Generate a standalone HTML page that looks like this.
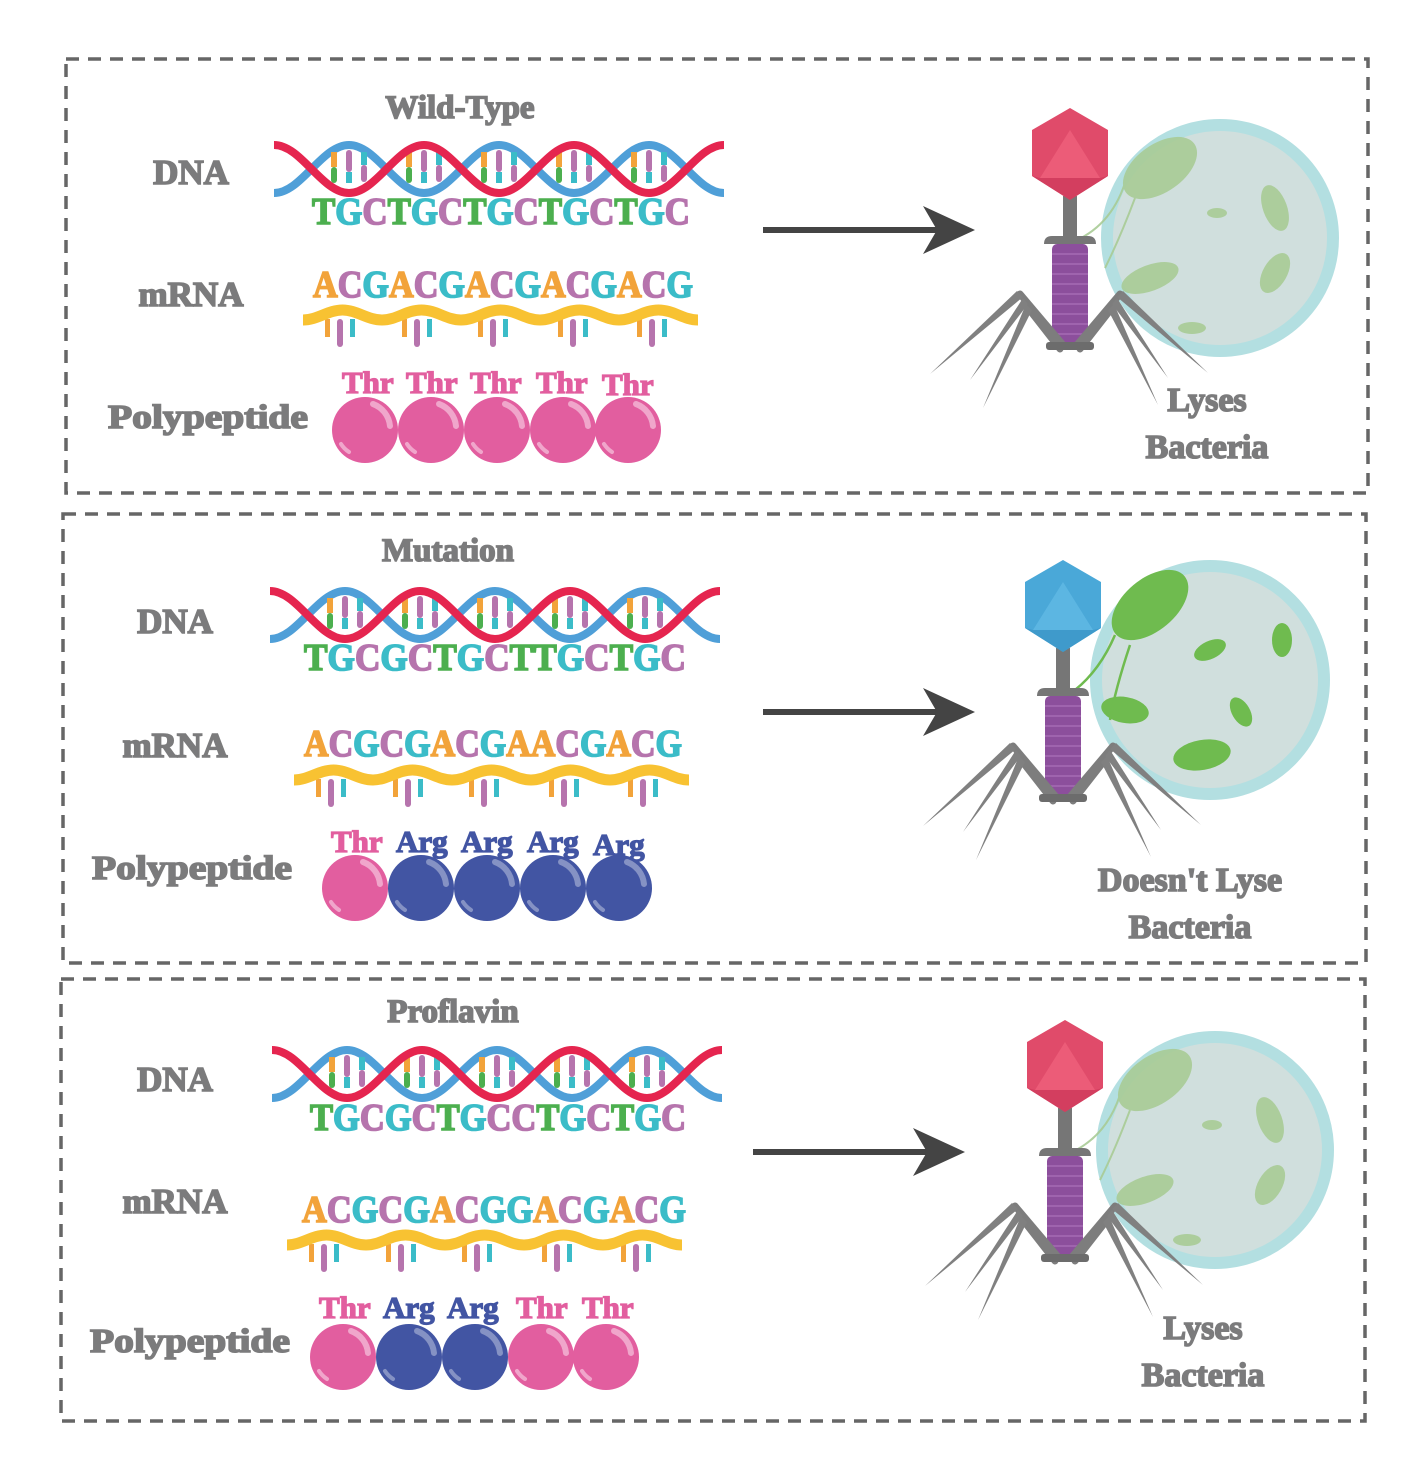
<!DOCTYPE html>
<html><head><meta charset="utf-8"><style>
html,body{margin:0;padding:0;background:#fff}
svg{display:block}
.lab{font-family:"Liberation Serif",serif;font-weight:bold;fill:#7b7b7c;stroke:#7b7b7c;stroke-width:1.6}
.seq{font-family:"Liberation Serif",serif;font-weight:bold;font-size:38px;stroke-width:1.6}
.seq tspan{stroke:currentColor}
.aa{font-family:"Liberation Serif",serif;font-weight:bold;font-size:31px}
.aa text{stroke-width:1.3}
</style></head><body>
<svg width="1427" height="1480" viewBox="0 0 1427 1480" xmlns="http://www.w3.org/2000/svg">
<defs>
<g id="bp">
  <rect x="-18" y="-17" width="6" height="15" fill="#f2a33a"/><rect x="-18" y="-2" width="6" height="16" rx="3" fill="#4caf4f"/>
  <rect x="-3" y="-19" width="6" height="22" rx="3" fill="#b674ad"/><rect x="-3" y="3" width="6" height="11" fill="#3bbcc8"/>
  <rect x="12" y="-17" width="6" height="13" fill="#3bbcc8"/><rect x="12" y="-4" width="6" height="17" rx="3" fill="#b674ad"/>
</g>
<g id="helix">
  <path d="M0,-24 C27.3,-24 47.7,24 75,24 S122.7,-24 150,-24 S197.7,24 225,24 S272.7,-24 300,-24 S347.7,24 375,24 S422.7,-24 450,-24" fill="none" stroke="#4f9fd8" stroke-width="8" transform="scale(1,-1)"/>
  <use href="#bp" x="75"/><use href="#bp" x="150"/><use href="#bp" x="225"/><use href="#bp" x="300"/><use href="#bp" x="375"/>
  <path d="M0,-24 C27.3,-24 47.7,24 75,24 S122.7,-24 150,-24 S197.7,24 225,24 S272.7,-24 300,-24 S347.7,24 375,24 S422.7,-24 450,-24" fill="none" stroke="#e5254f" stroke-width="8"/>
</g>
<g id="rtick">
  <rect x="-15" y="4" width="5" height="18" fill="#f2a33a"/>
  <rect x="-3" y="4" width="6" height="28" rx="3" fill="#b674ad"/>
  <rect x="10" y="4" width="5" height="18" fill="#3bbcc8"/>
</g>
<g id="rna">
  <use href="#rtick" x="37"/><use href="#rtick" x="114"/><use href="#rtick" x="190"/><use href="#rtick" x="270"/><use href="#rtick" x="349"/>
  <path d="M0,5 C14.4,5 25.1,-5 39.5,-5 S64.4,5 79,5 S103.4,-5 118.5,-5 S143.4,5 158,5 S182.4,-5 197.5,-5 S222.4,5 237,5 S261.4,-5 276.5,-5 S301.4,5 316,5 S340.4,-5 355.5,-5 S380.4,5 395,5" fill="none" stroke="#f8c232" stroke-width="11"/>
</g>
<g id="pink"><circle r="33" fill="#e25e9f"/><path d="M8,-26 A26,26 0 0 1 25,-4" stroke="#f0a6cb" stroke-width="6" fill="none" stroke-linecap="round"/><path d="M-24,14 A26,26 0 0 0 -16,22" stroke="#f0a6cb" stroke-width="4" fill="none" stroke-linecap="round"/></g>
<g id="blue"><circle r="33" fill="#4255a3"/><path d="M8,-26 A26,26 0 0 1 25,-4" stroke="#8592c4" stroke-width="6" fill="none" stroke-linecap="round"/><path d="M-24,14 A26,26 0 0 0 -16,22" stroke="#8592c4" stroke-width="4" fill="none" stroke-linecap="round"/></g>
<g id="arrow"><rect x="0" y="-3" width="180" height="6" fill="#444"/><polygon points="160,-24 212,0 160,24 174,0" fill="#444"/></g>
<g id="body">
  <rect x="-7" y="88" width="14" height="44" fill="#767676"/>
  <path d="M-26,136 Q-26,128 -18,128 L18,128 Q26,128 26,136 Z" fill="#767676"/>
  <rect x="-18" y="136" width="36" height="101" rx="5" fill="#8c4f9c"/>
  <g stroke="#a56bb3" stroke-width="1.5"><line x1="-18" y1="146" x2="18" y2="146"/><line x1="-18" y1="156" x2="18" y2="156"/><line x1="-18" y1="166" x2="18" y2="166"/><line x1="-18" y1="176" x2="18" y2="176"/><line x1="-18" y1="186" x2="18" y2="186"/><line x1="-18" y1="196" x2="18" y2="196"/><line x1="-18" y1="206" x2="18" y2="206"/><line x1="-18" y1="216" x2="18" y2="216"/><line x1="-18" y1="226" x2="18" y2="226"/></g>
  <g stroke="#7d7d7d" stroke-width="7" stroke-linecap="round" fill="none">
    <polyline points="-6,238 -50,186"/><polyline points="-10,241 -42,200"/>
    <polyline points="6,238 50,186"/><polyline points="10,241 42,200"/>
  </g>
  <rect x="-24" y="234" width="48" height="8" rx="3" fill="#6c6c6c"/>
  <g fill="#808080">
    <polygon points="-53,183 -47,189 -140,266"/><polygon points="-47,190 -42,196 -100,272"/><polygon points="-44,196 -38,202 -87,300"/>
    <polygon points="53,183 47,189 138,265"/><polygon points="47,190 42,196 98,270"/><polygon points="44,196 38,202 88,297"/>
  </g>
</g>
<g id="headR"><polygon points="0,0 38,22 38,68 0,92 -38,68 -38,22" fill="#e04b6a"/><polygon points="0,22 30,70 -30,70" fill="#ec5c78"/><polygon points="0,92 38,68 30,70 -30,70 -38,68" fill="#d33e5f"/></g>
<g id="headB"><polygon points="0,0 38,22 38,68 0,92 -38,68 -38,22" fill="#4aa8d8"/><polygon points="0,22 30,70 -30,70" fill="#5cb6e2"/><polygon points="0,92 38,68 30,70 -30,70 -38,68" fill="#3f9acb"/></g>
<g id="bacF" fill="#a9cc96" opacity="0.9">
  <ellipse cx="-60" cy="-70" rx="42" ry="24" transform="rotate(-35 -60 -70)"/>
  <ellipse cx="55" cy="-30" rx="24" ry="12" transform="rotate(70 55 -30)"/>
  <ellipse cx="-3" cy="-25" rx="10" ry="5"/>
  <ellipse cx="-70" cy="40" rx="30" ry="13" transform="rotate(-20 -70 40)"/>
  <ellipse cx="55" cy="35" rx="22" ry="12" transform="rotate(-60 55 35)"/>
  <ellipse cx="-28" cy="90" rx="14" ry="6"/>
  <path d="M-95,-55 Q-110,-10 -150,5 M-85,-40 Q-100,0 -115,30" stroke="#a9cc96" stroke-width="2" fill="none"/>
</g>
<g id="bacM" fill="#6fbb4f">
  <ellipse cx="-60" cy="-75" rx="45" ry="26" transform="rotate(-40 -60 -75)"/>
  <ellipse cx="0" cy="-30" rx="17" ry="9" transform="rotate(-25 0 -30)"/>
  <ellipse cx="72" cy="-40" rx="10" ry="17"/>
  <ellipse cx="-85" cy="30" rx="24" ry="13" transform="rotate(10 -85 30)"/>
  <ellipse cx="31" cy="32" rx="9" ry="16" transform="rotate(-30 31 32)"/>
  <ellipse cx="-8" cy="75" rx="29" ry="15" transform="rotate(-10 -8 75)"/>
  <path d="M-95,-45 Q-110,-10 -135,10 M-80,-35 Q-95,10 -100,40" stroke="#6fbb4f" stroke-width="2.5" fill="none"/>
</g>
</defs>

<g fill="none" stroke="#666" stroke-width="3.5" stroke-dasharray="13 9">
<rect x="66" y="59" width="1302" height="434"/>
<rect x="63" y="514" width="1303" height="449"/>
<rect x="61" y="979" width="1304" height="442"/>
</g>

<!-- PANEL 1 -->
<text class="lab" x="460" y="118" font-size="33" text-anchor="middle">Wild-Type</text>
<text class="lab" x="191" y="184" font-size="35" text-anchor="middle">DNA</text>
<text class="lab" x="191" y="306" font-size="35" text-anchor="middle">mRNA</text>
<text class="lab" x="208" y="428" font-size="34" text-anchor="middle" textLength="200" lengthAdjust="spacingAndGlyphs">Polypeptide</text>
<use href="#helix" x="274" y="169"/>
<text class="seq" x="312" y="224" textLength="378" lengthAdjust="spacingAndGlyphs"><tspan fill="#4caf4f" color="#4caf4f">T</tspan><tspan fill="#3bbcc8" color="#3bbcc8">G</tspan><tspan fill="#b674ad" color="#b674ad">C</tspan><tspan fill="#4caf4f" color="#4caf4f">T</tspan><tspan fill="#3bbcc8" color="#3bbcc8">G</tspan><tspan fill="#b674ad" color="#b674ad">C</tspan><tspan fill="#4caf4f" color="#4caf4f">T</tspan><tspan fill="#3bbcc8" color="#3bbcc8">G</tspan><tspan fill="#b674ad" color="#b674ad">C</tspan><tspan fill="#4caf4f" color="#4caf4f">T</tspan><tspan fill="#3bbcc8" color="#3bbcc8">G</tspan><tspan fill="#b674ad" color="#b674ad">C</tspan><tspan fill="#4caf4f" color="#4caf4f">T</tspan><tspan fill="#3bbcc8" color="#3bbcc8">G</tspan><tspan fill="#b674ad" color="#b674ad">C</tspan></text>
<text class="seq" x="313" y="297" textLength="380" lengthAdjust="spacingAndGlyphs"><tspan fill="#f2a33a" color="#f2a33a">A</tspan><tspan fill="#b674ad" color="#b674ad">C</tspan><tspan fill="#3bbcc8" color="#3bbcc8">G</tspan><tspan fill="#f2a33a" color="#f2a33a">A</tspan><tspan fill="#b674ad" color="#b674ad">C</tspan><tspan fill="#3bbcc8" color="#3bbcc8">G</tspan><tspan fill="#f2a33a" color="#f2a33a">A</tspan><tspan fill="#b674ad" color="#b674ad">C</tspan><tspan fill="#3bbcc8" color="#3bbcc8">G</tspan><tspan fill="#f2a33a" color="#f2a33a">A</tspan><tspan fill="#b674ad" color="#b674ad">C</tspan><tspan fill="#3bbcc8" color="#3bbcc8">G</tspan><tspan fill="#f2a33a" color="#f2a33a">A</tspan><tspan fill="#b674ad" color="#b674ad">C</tspan><tspan fill="#3bbcc8" color="#3bbcc8">G</tspan></text>
<use href="#rna" x="303" y="315"/>
<g class="aa" fill="#e25e9f" stroke="#e25e9f"><text x="342" y="393">Thr</text><text x="406" y="393">Thr</text><text x="470" y="393">Thr</text><text x="536" y="393">Thr</text><text x="602" y="395">Thr</text></g>
<use href="#pink" x="365" y="430"/><use href="#pink" x="431" y="430"/><use href="#pink" x="497" y="430"/><use href="#pink" x="563" y="430"/><use href="#pink" x="628" y="430"/>
<use href="#arrow" x="763" y="230"/>
<circle cx="1220" cy="238" r="113" fill="#d0dfdd" stroke="#b3dfe1" stroke-width="12"/>
<use href="#bacF" x="1220" y="238"/>
<use href="#body" x="1070" y="108"/><use href="#headR" x="1070" y="108"/>
<text class="lab" x="1207" y="411" font-size="34" text-anchor="middle">Lyses</text>
<text class="lab" x="1207" y="458" font-size="34" text-anchor="middle">Bacteria</text>

<!-- PANEL 2 -->
<text class="lab" x="448" y="561" font-size="33" text-anchor="middle">Mutation</text>
<text class="lab" x="175" y="633" font-size="35" text-anchor="middle">DNA</text>
<text class="lab" x="175" y="757" font-size="35" text-anchor="middle">mRNA</text>
<text class="lab" x="192" y="879" font-size="34" text-anchor="middle" textLength="200" lengthAdjust="spacingAndGlyphs">Polypeptide</text>
<use href="#helix" x="270" y="615"/>
<text class="seq" x="304" y="670" textLength="382" lengthAdjust="spacingAndGlyphs"><tspan fill="#4caf4f" color="#4caf4f">T</tspan><tspan fill="#3bbcc8" color="#3bbcc8">G</tspan><tspan fill="#b674ad" color="#b674ad">C</tspan><tspan fill="#3bbcc8" color="#3bbcc8">G</tspan><tspan fill="#b674ad" color="#b674ad">C</tspan><tspan fill="#4caf4f" color="#4caf4f">T</tspan><tspan fill="#3bbcc8" color="#3bbcc8">G</tspan><tspan fill="#b674ad" color="#b674ad">C</tspan><tspan fill="#4caf4f" color="#4caf4f">T</tspan><tspan fill="#4caf4f" color="#4caf4f">T</tspan><tspan fill="#3bbcc8" color="#3bbcc8">G</tspan><tspan fill="#b674ad" color="#b674ad">C</tspan><tspan fill="#4caf4f" color="#4caf4f">T</tspan><tspan fill="#3bbcc8" color="#3bbcc8">G</tspan><tspan fill="#b674ad" color="#b674ad">C</tspan></text>
<text class="seq" x="304" y="756" textLength="378" lengthAdjust="spacingAndGlyphs"><tspan fill="#f2a33a" color="#f2a33a">A</tspan><tspan fill="#b674ad" color="#b674ad">C</tspan><tspan fill="#3bbcc8" color="#3bbcc8">G</tspan><tspan fill="#b674ad" color="#b674ad">C</tspan><tspan fill="#3bbcc8" color="#3bbcc8">G</tspan><tspan fill="#f2a33a" color="#f2a33a">A</tspan><tspan fill="#b674ad" color="#b674ad">C</tspan><tspan fill="#3bbcc8" color="#3bbcc8">G</tspan><tspan fill="#f2a33a" color="#f2a33a">A</tspan><tspan fill="#f2a33a" color="#f2a33a">A</tspan><tspan fill="#b674ad" color="#b674ad">C</tspan><tspan fill="#3bbcc8" color="#3bbcc8">G</tspan><tspan fill="#f2a33a" color="#f2a33a">A</tspan><tspan fill="#b674ad" color="#b674ad">C</tspan><tspan fill="#3bbcc8" color="#3bbcc8">G</tspan></text>
<use href="#rna" x="294" y="775"/>
<g class="aa"><text x="331" y="852" fill="#e25e9f" stroke="#e25e9f">Thr</text><g fill="#4255a3" stroke="#4255a3"><text x="396" y="852">Arg</text><text x="461" y="852">Arg</text><text x="527" y="852">Arg</text><text x="593" y="855">Arg</text></g></g>
<use href="#pink" x="355" y="888"/><use href="#blue" x="421" y="888"/><use href="#blue" x="487" y="888"/><use href="#blue" x="553" y="888"/><use href="#blue" x="619" y="888"/>
<use href="#arrow" x="763" y="712"/>
<circle cx="1210" cy="680" r="114" fill="#d0dfdd" stroke="#b3dfe1" stroke-width="12"/>
<use href="#bacM" x="1210" y="680"/>
<use href="#body" x="1063" y="560"/><use href="#headB" x="1063" y="560"/>
<text class="lab" x="1190" y="891" font-size="34" text-anchor="middle">Doesn't Lyse</text>
<text class="lab" x="1190" y="938" font-size="34" text-anchor="middle">Bacteria</text>

<!-- PANEL 3 -->
<text class="lab" x="453" y="1022" font-size="33" text-anchor="middle">Proflavin</text>
<text class="lab" x="175" y="1091" font-size="35" text-anchor="middle">DNA</text>
<text class="lab" x="175" y="1213" font-size="35" text-anchor="middle">mRNA</text>
<text class="lab" x="190" y="1352" font-size="34" text-anchor="middle" textLength="200" lengthAdjust="spacingAndGlyphs">Polypeptide</text>
<use href="#helix" x="272" y="1074"/>
<text class="seq" x="310" y="1130" textLength="376" lengthAdjust="spacingAndGlyphs"><tspan fill="#4caf4f" color="#4caf4f">T</tspan><tspan fill="#3bbcc8" color="#3bbcc8">G</tspan><tspan fill="#b674ad" color="#b674ad">C</tspan><tspan fill="#3bbcc8" color="#3bbcc8">G</tspan><tspan fill="#b674ad" color="#b674ad">C</tspan><tspan fill="#4caf4f" color="#4caf4f">T</tspan><tspan fill="#3bbcc8" color="#3bbcc8">G</tspan><tspan fill="#b674ad" color="#b674ad">C</tspan><tspan fill="#b674ad" color="#b674ad">C</tspan><tspan fill="#4caf4f" color="#4caf4f">T</tspan><tspan fill="#3bbcc8" color="#3bbcc8">G</tspan><tspan fill="#b674ad" color="#b674ad">C</tspan><tspan fill="#4caf4f" color="#4caf4f">T</tspan><tspan fill="#3bbcc8" color="#3bbcc8">G</tspan><tspan fill="#b674ad" color="#b674ad">C</tspan></text>
<text class="seq" x="302" y="1222" textLength="384" lengthAdjust="spacingAndGlyphs"><tspan fill="#f2a33a" color="#f2a33a">A</tspan><tspan fill="#b674ad" color="#b674ad">C</tspan><tspan fill="#3bbcc8" color="#3bbcc8">G</tspan><tspan fill="#b674ad" color="#b674ad">C</tspan><tspan fill="#3bbcc8" color="#3bbcc8">G</tspan><tspan fill="#f2a33a" color="#f2a33a">A</tspan><tspan fill="#b674ad" color="#b674ad">C</tspan><tspan fill="#3bbcc8" color="#3bbcc8">G</tspan><tspan fill="#3bbcc8" color="#3bbcc8">G</tspan><tspan fill="#f2a33a" color="#f2a33a">A</tspan><tspan fill="#b674ad" color="#b674ad">C</tspan><tspan fill="#3bbcc8" color="#3bbcc8">G</tspan><tspan fill="#f2a33a" color="#f2a33a">A</tspan><tspan fill="#b674ad" color="#b674ad">C</tspan><tspan fill="#3bbcc8" color="#3bbcc8">G</tspan></text>
<use href="#rna" x="287" y="1240"/>
<g class="aa"><text x="319" y="1318" fill="#e25e9f" stroke="#e25e9f">Thr</text><text x="383" y="1318" fill="#4255a3" stroke="#4255a3">Arg</text><text x="447" y="1318" fill="#4255a3" stroke="#4255a3">Arg</text><text x="516" y="1318" fill="#e25e9f" stroke="#e25e9f">Thr</text><text x="582" y="1318" fill="#e25e9f" stroke="#e25e9f">Thr</text></g>
<use href="#pink" x="343" y="1357"/><use href="#blue" x="409" y="1357"/><use href="#blue" x="475" y="1357"/><use href="#pink" x="541" y="1357"/><use href="#pink" x="606" y="1357"/>
<use href="#arrow" x="753" y="1152"/>
<circle cx="1215" cy="1150" r="113" fill="#d0dfdd" stroke="#b3dfe1" stroke-width="12"/>
<use href="#bacF" x="1215" y="1150"/>
<use href="#body" x="1065" y="1020"/><use href="#headR" x="1065" y="1020"/>
<text class="lab" x="1203" y="1339" font-size="34" text-anchor="middle">Lyses</text>
<text class="lab" x="1203" y="1386" font-size="34" text-anchor="middle">Bacteria</text>
</svg>
</body></html>
